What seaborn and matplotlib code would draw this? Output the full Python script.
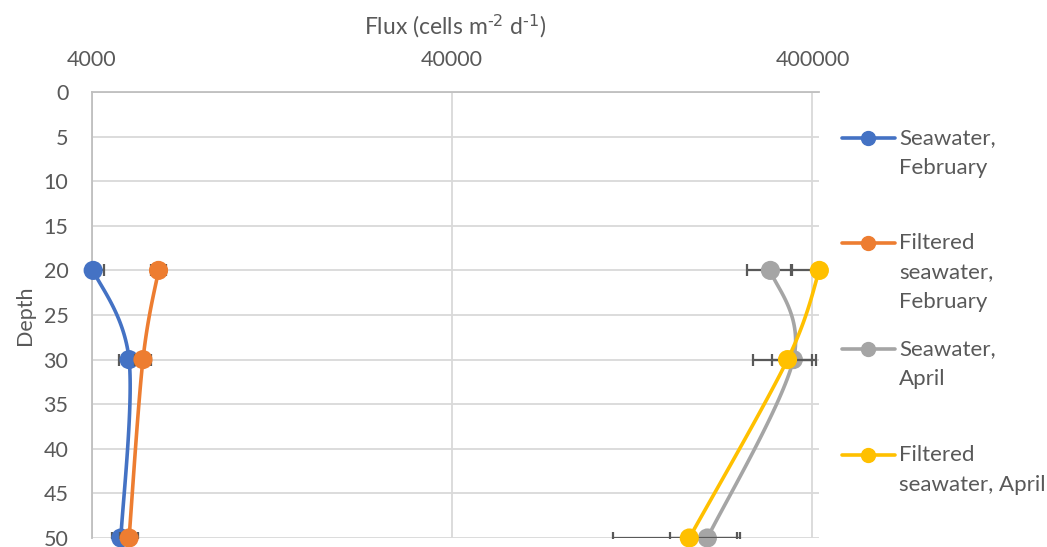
import numpy as np
import pandas as pd
import matplotlib
matplotlib.use("Agg")
import matplotlib.pyplot as plt
from matplotlib.lines import Line2D
import seaborn as sns

# data
depths = [20, 30, 50]
series_names = ["Seawater,\nFebruary", "Filtered\nseawater,\nFebruary",
                "Seawater,\nApril", "Filtered\nseawater, April"]
sw_feb = [4030, 5070, 4810]
sw_feb_err = [290, 320, 270]
fsw_feb = [6120, 5540, 5070]
fsw_feb_err = [300, 290, 300]
sw_apr = [305700, 354000, 204300]
sw_apr_err = [43000, 46000, 43000]
fsw_apr = [418000, 341000, 182000]
fsw_apr_err = [68000, 68000, 70000]
x_ticks = [4000, 40000, 400000]
y_ticks = list(range(0, 55, 5))

colors = ["#4472C4", "#ED7D31", "#A5A5A5", "#FFC000"]
text_col = "#595959"

sns.set_theme(style="white")
plt.rcParams["font.family"] = ["Lato", "DejaVu Sans"]
plt.rcParams["mathtext.default"] = "regular"


def excel_smooth(xs, ys, n=40):
    # Catmull-Rom style bezier in (log x, y) space, like Excel "smoothed line"
    p = np.column_stack([np.log10(xs), ys]).astype(float)
    pts = []
    for i in range(len(p) - 1):
        prev = p[i - 1] if i > 0 else p[i]
        nxt = p[i + 2] if i + 2 < len(p) else p[i + 1]
        c1 = p[i] + (p[i + 1] - prev) / 6
        c2 = p[i + 1] - (nxt - p[i]) / 6
        t = np.linspace(0, 1, n)[:, None]
        seg = ((1 - t) ** 3 * p[i] + 3 * (1 - t) ** 2 * t * c1
               + 3 * (1 - t) * t ** 2 * c2 + t ** 3 * p[i + 1])
        pts.append(seg if i == 0 else seg[1:])
    pts = np.vstack(pts)
    return 10 ** pts[:, 0], pts[:, 1]


fig = plt.figure(figsize=(10.47, 5.47), dpi=100)
ax = fig.add_axes([92 / 1047, 1 - 538 / 547, (819 - 92) / 1047, (538 - 92) / 547])

all_vals = [sw_feb, fsw_feb, sw_apr, fsw_apr]
all_errs = [sw_feb_err, fsw_feb_err, sw_apr_err, fsw_apr_err]

for k, (vals, errs) in enumerate(zip(all_vals, all_errs)):
    z = 3 + k * 3
    ax.errorbar(vals, depths, xerr=errs, fmt="none", ecolor="#595959",
                elinewidth=1.6, capsize=4.5, capthick=1.6, zorder=z)
    sx, sy = excel_smooth(vals, depths)
    sm = pd.DataFrame({"flux": sx, "depth": sy})
    sns.lineplot(data=sm, x="flux", y="depth", sort=False, estimator=None,
                 color=colors[k], lw=2.6, ax=ax, zorder=z + 1)
    pt = pd.DataFrame({"flux": vals, "depth": depths})
    sns.scatterplot(data=pt, x="flux", y="depth", color=colors[k], s=190,
                    edgecolor="none", ax=ax, zorder=z + 2, clip_on=False)

ax.set_xscale("log")
ax.set_xlim(4000, 417000)
ax.set_ylim(50, 0)
ax.set_xticks(x_ticks)
ax.set_xticklabels([str(v) for v in x_ticks])
ax.minorticks_off()
ax.set_yticks(y_ticks)
ax.xaxis.tick_top()
ax.xaxis.set_label_position("top")
ax.tick_params(axis="x", length=0, pad=16, labelsize=15.5, labelcolor=text_col)
ax.tick_params(axis="y", length=0, pad=17, labelsize=15.5, labelcolor=text_col)
ax.set_xlabel(r"Flux (cells m$^{\text{-2}}$ d$^{\text{-1}}$)", fontsize=16.5,
              color=text_col, labelpad=11)
ax.set_ylabel("Depth", fontsize=15.5, color=text_col, labelpad=6)

ax.grid(True, color="#D9D9D9", lw=1.3)
ax.set_axisbelow(True)
for side in ["right", "bottom"]:
    ax.spines[side].set_visible(False)
for side in ["left", "top"]:
    ax.spines[side].set_color("#BFBFBF")
    ax.spines[side].set_linewidth(1.3)

# legend drawn at the right, handle aligned with first text line
leg_y = [138, 243, 349, 455]
for k, name in enumerate(series_names):
    yf = 1 - leg_y[k] / 547
    fig.add_artist(Line2D([842 / 1047, 895 / 1047], [yf, yf], color=colors[k],
                          lw=2.6, transform=fig.transFigure))
    fig.add_artist(Line2D([868 / 1047], [yf], color=colors[k], marker="o",
                          markersize=10, transform=fig.transFigure))
    fig.text(899 / 1047, yf + 10 / 547, name, ha="left", va="top",
             fontsize=16, color=text_col, linespacing=1.6)

fig.savefig("out.png", dpi=100)
